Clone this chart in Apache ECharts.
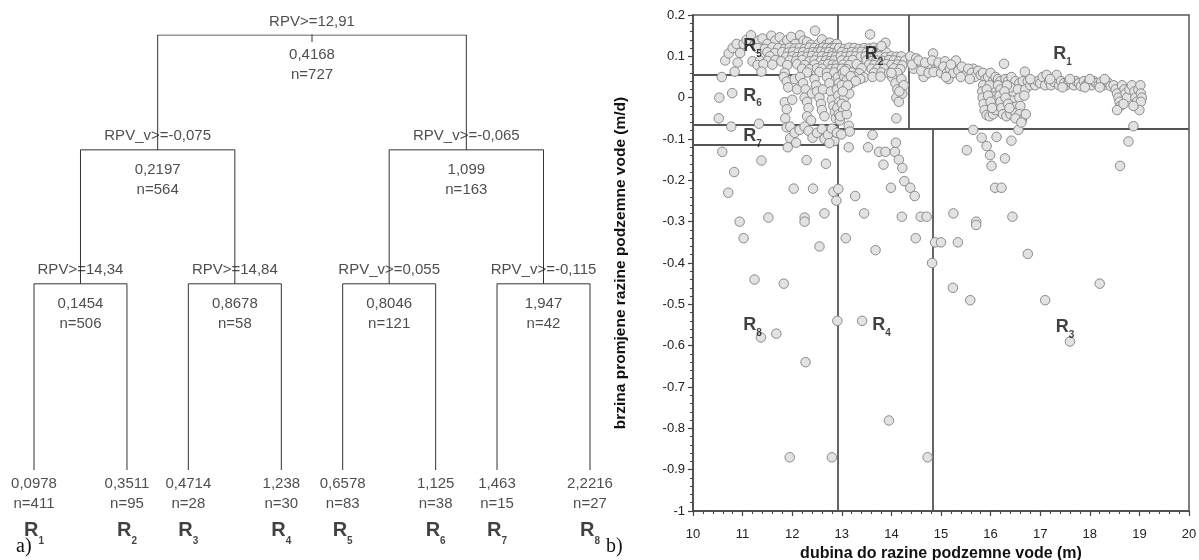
<!DOCTYPE html>
<html><head><meta charset="utf-8">
<script src="https://cdn.jsdelivr.net/npm/echarts@6/dist/echarts.min.js"></script>
<style>html,body{margin:0;padding:0;background:#fff}#c{width:1199px;height:560px}</style>
</head><body><div id="c"></div>
<script>
// ---------------- regression tree (panel a) ----------------
const rootRule = ['RPV', 12.91];
const rootMean = 0.4168, rootCount = 727;
const level1Rules = [['RPV_v', -0.075], ['RPV_v', -0.065]];
const level1Means = [0.2197, 1.099];
const level1Counts = [564, 163];
const level2Rules = [['RPV', 14.34], ['RPV', 14.84], ['RPV_v', 0.055], ['RPV_v', -0.115]];
const level2Means = [0.1454, 0.8678, 0.8046, 1.947];
const level2Counts = [506, 58, 121, 42];
const leafIds = ['1', '2', '3', '4', '5', '6', '7', '8'];
const leafMeans = [0.0978, 0.3511, 0.4714, 1.238, 0.6578, 1.125, 1.463, 2.2216];
const leafCounts = [411, 95, 28, 30, 83, 38, 15, 27];
const nodeHeights = [1, 0.736, 0.428, 0]; // relative height of root, level 1, level 2, leaves

// ---------------- scatter (panel b) ----------------
const xTicks = [10, 20, 1];
const yTicks = [-1, 0.2, 0.1];
const pointsR5 = [[10.65,0.09],[10.72,0.107],[10.8,0.12],[10.88,0.13],[10.95,0.108],[11.02,0.13],[11.08,0.14],[11.17,0.151],[11.25,0.128],[11.32,0.138],[11.4,0.143],[11.5,0.13],[11.58,0.15],[11.66,0.138],[11.75,0.146],[11.83,0.13],[11.9,0.139],[11.98,0.147],[12.06,0.13],[12.16,0.151],[12.23,0.138],[12.3,0.135],[12.38,0.128],[12.46,0.162],[12.53,0.13],[12.6,0.141],[12.68,0.128],[12.76,0.133],[12.84,0.125],[12.9,0.13],
[11.3,0.12],[11.45,0.118],[11.6,0.122],[11.72,0.12],[11.85,0.118],[11.95,0.121],[12.05,0.119],[12.15,0.12],[12.25,0.118],[12.35,0.121],[12.45,0.12],[12.55,0.118],[12.62,0.121],[12.7,0.12],[12.78,0.119],[12.86,0.12],
[11.5,0.11],[11.65,0.108],[11.8,0.11],[11.92,0.109],[12.02,0.111],[12.12,0.109],[12.22,0.11],[12.32,0.108],[12.42,0.11],[12.5,0.109],[12.58,0.111],[12.66,0.109],[12.74,0.11],[12.82,0.108],[12.9,0.11],
[11.55,0.1],[11.88,0.099],[12.0,0.1],[12.1,0.098],[12.2,0.1],[12.3,0.099],[12.4,0.101],[12.5,0.099],[12.6,0.1],[12.7,0.098],[12.8,0.1],[12.88,0.099],
[11.2,0.088],[11.35,0.09],[11.5,0.089],[11.66,0.091],[11.78,0.088],[11.95,0.09],[12.08,0.089],[12.2,0.091],[12.35,0.088],[12.45,0.09],[12.58,0.089],[12.68,0.09],[12.76,0.088],[12.85,0.09],
[11.3,0.079],[11.42,0.081],[11.6,0.08],[11.9,0.079],[12.1,0.081],[12.25,0.079],[12.45,0.08],[12.62,0.079],[12.72,0.081],[12.82,0.08],[12.9,0.079],
[12.2,0.07],[12.35,0.069],[12.5,0.071],[12.6,0.07],[12.78,0.069],[12.88,0.07],
[11.38,0.063],[11.85,0.06],[12.3,0.061],[12.55,0.062],[12.7,0.06],[12.85,0.061],[10.9,0.085],[10.84,0.063],[10.58,0.05]];
const pointsR6 = [[10.53,0.0],[10.79,0.011],[10.52,-0.05],[10.77,-0.07],[11.33,-0.063],
[11.83,0.05],[11.89,0.039],[11.92,0.025],[11.85,-0.011],[11.89,-0.028],[11.86,-0.05],
[12.05,0.045],[12.1,0.02],[12.0,-0.005],
[12.16,0.05],[12.22,0.035],[12.27,0.02],[12.25,0.0],[12.3,-0.01],[12.33,-0.025],[12.3,-0.045],[12.38,-0.055],
[12.4,0.01],[12.45,0.045],[12.48,0.03],[12.5,0.015],[12.55,0.0],[12.58,-0.015],[12.6,-0.03],[12.65,-0.045],[12.62,0.02],
[12.7,0.05],[12.75,0.035],[12.78,0.015],[12.8,-0.005],[12.83,-0.02],[12.86,-0.035],[12.88,-0.05],
[12.92,0.05],[12.94,0.035],[12.9,0.02],[12.93,0.005],[12.95,-0.01],[12.91,-0.025],[12.94,-0.04],[12.96,-0.055]];
const pointsR7R8 = [[11.89,-0.072],[11.96,-0.07],[11.96,-0.098],[12.05,-0.085],[12.15,-0.078],[12.25,-0.07],[12.33,-0.08],[12.41,-0.097],[12.5,-0.085],[12.6,-0.076],[12.65,-0.1],[12.72,-0.09],[12.8,-0.075],[12.85,-0.105],[12.9,-0.085],[11.91,-0.12],[12.08,-0.109],[12.75,-0.11],
[10.59,-0.131],[10.83,-0.18],[11.38,-0.152],[12.29,-0.151],[12.68,-0.16],[10.71,-0.23],[10.94,-0.3],[11.02,-0.34],[11.24,-0.44],[11.37,-0.58],[11.68,-0.571],[11.83,-0.45],[11.52,-0.29],[12.03,-0.22],[12.42,-0.22],[12.25,-0.29],[12.25,-0.3],[12.65,-0.28],[12.55,-0.36],[12.27,-0.64],[12.83,-0.228],[12.89,-0.249],[11.95,-0.87],[12.8,-0.87]];
const pointsR2 = [[12.95,0.12],[13.05,0.118],[13.15,0.121],[13.25,0.12],[13.35,0.118],[13.45,0.12],[13.55,0.119],[13.65,0.121],[13.75,0.118],
[13.0,0.11],[13.1,0.108],[13.2,0.11],[13.3,0.109],[13.4,0.111],[13.5,0.109],[13.6,0.11],[13.7,0.108],[13.8,0.11],[13.9,0.109],
[12.98,0.1],[13.08,0.099],[13.18,0.101],[13.28,0.1],[13.38,0.099],[13.48,0.1],[13.75,0.1],[13.88,0.098],[14.0,0.1],[14.1,0.099],[14.2,0.1],
[13.0,0.09],[13.12,0.089],[13.22,0.091],[13.5,0.09],[13.6,0.088],[13.7,0.09],[13.82,0.089],[13.95,0.091],[14.05,0.09],[14.15,0.088],[14.28,0.09],
[13.57,0.153],[13.88,0.133],[13.8,0.125],
[13.03,0.08],[13.15,0.079],[13.3,0.081],[13.55,0.08],[13.65,0.079],[13.78,0.08],[13.9,0.081],[14.0,0.079],[14.12,0.08],[14.22,0.078],
[13.0,0.07],[13.1,0.069],[13.4,0.071],[13.6,0.07],[13.72,0.069],[13.85,0.07],[14.05,0.071],[14.18,0.069],
[13.02,0.06],[13.2,0.061],[13.35,0.059],[13.65,0.06],[13.8,0.061],[13.95,0.059],[14.12,0.06],
[13.05,0.05],[13.25,0.051],[13.45,0.049],[13.62,0.05],[13.78,0.051],[14.02,0.049],[13.37,0.045],[13.1,0.042],
[13.0,0.03],[13.1,0.02],[13.05,0.0],[13.0,-0.015],[13.03,-0.03],[12.97,-0.045],[13.1,-0.04],[13.2,0.035],[13.15,0.01],[14.08,0.035],[14.12,0.02],[14.1,0.0],[14.15,-0.01],[14.22,0.01],[14.1,-0.05],[13.14,-0.068],
[13.06,0.065],[13.18,0.052],[13.28,0.04],[13.12,0.03],[13.02,0.015],[13.08,-0.02],[14.0,0.06],[14.2,0.045],[14.25,0.03],[14.16,0.015]];
const pointsR4 = [[13.16,-0.082],[12.99,-0.089],[13.14,-0.12],[13.53,-0.12],[13.62,-0.09],[13.75,-0.131],[13.88,-0.131],[14.07,-0.131],[14.09,-0.109],[14.15,-0.15],[13.84,-0.162],[14.22,-0.17],[14.26,-0.202],[12.93,-0.221],[13.08,-0.34],[13.27,-0.238],[13.45,-0.28],[13.68,-0.369],[13.41,-0.54],[12.91,-0.54],[13.99,-0.218],[14.21,-0.288],[14.38,-0.218],[14.47,-0.238],[14.59,-0.288],[14.71,-0.288],[14.49,-0.34],[14.82,-0.4],[13.95,-0.781],[14.73,-0.87]];
const pointsR3 = [[14.88,-0.35],[15.0,-0.35],[15.25,-0.28],[15.34,-0.35],[15.24,-0.46],[15.59,-0.49],[15.71,-0.3],[15.71,-0.308],[16.09,-0.218],[16.22,-0.218],[16.44,-0.288],[16.75,-0.378],[17.1,-0.49],[17.6,-0.59],[18.2,-0.45],[15.65,-0.078],[15.82,-0.097],[15.92,-0.117],[15.99,-0.139],[16.02,-0.165],[15.52,-0.127],[16.12,-0.095],[16.29,-0.147],[16.42,-0.104],[18.88,-0.069],[18.78,-0.106],[18.61,-0.165],[16.56,-0.078]];
const pointsR1 = [[14.4,0.09],[14.48,0.085],[14.55,0.075],[14.62,0.08],[14.7,0.072],[14.78,0.08],[14.84,0.107],[14.9,0.07],[14.97,0.075],[14.45,0.07],[14.65,0.05],[14.6,0.065],[14.75,0.06],[14.85,0.062],[15.0,0.06],[14.38,0.1],[14.5,0.095],
[14.42,0.08],[14.55,0.09],[14.68,0.085],[14.82,0.09],[14.95,0.085],[15.08,0.088],[15.22,0.068],[15.45,0.062],[15.65,0.07],[15.15,0.045],
[15.05,0.075],[15.12,0.06],[15.18,0.07],[15.25,0.06],[15.3,0.09],[15.35,0.065],[15.42,0.075],[15.5,0.055],[15.55,0.07],[15.62,0.06],[15.68,0.05],[15.75,0.065],[15.2,0.08],[15.4,0.05],[15.58,0.045],[15.8,0.055],[15.1,0.05],
[15.85,0.06],[15.9,0.045],[15.95,0.05],[16.0,0.06],[16.05,0.04],[16.1,0.05],[16.15,0.045],[16.2,0.04],[16.27,0.082],[16.3,0.045],[16.35,0.04],[16.42,0.05],[16.5,0.04],[16.58,0.035],[16.65,0.04],[16.69,0.063],
[15.85,0.03],[15.83,0.015],[15.84,0.0],[15.86,-0.015],[15.88,-0.03],[15.92,-0.042],[15.98,-0.045],[16.05,-0.04],[16.1,-0.03],[16.13,-0.015],[16.12,0.0],[16.1,0.015],[16.05,0.025],[15.98,0.03],[15.92,0.02],[15.95,0.005],[16.0,-0.01],[16.03,-0.025],
[16.15,0.03],[16.2,0.02],[16.18,0.005],[16.2,-0.01],[16.22,-0.025],[16.25,-0.04],[16.32,-0.045],[16.4,-0.04],[16.45,-0.03],[16.48,-0.015],[16.47,0.0],[16.45,0.015],[16.4,0.025],[16.33,0.03],[16.28,0.015],[16.3,0.0],[16.35,-0.015],[16.38,-0.025],
[16.55,0.02],[16.58,0.0],[16.6,-0.02],[16.58,-0.04],[16.63,-0.054],[16.5,-0.05],[16.7,0.02],[16.68,0.005],[16.62,-0.06],[16.71,-0.04],
[16.75,0.04],[16.8,0.03],[16.85,0.038],[16.9,0.03],[16.95,0.04],[17.0,0.035],[17.05,0.05],[17.1,0.03],[17.13,0.055],[17.18,0.04],[17.22,0.03],[17.28,0.038],[17.33,0.055],[17.38,0.03],[17.42,0.04],[17.48,0.035],[17.53,0.03],[17.58,0.04],[17.63,0.035],[17.68,0.03],[17.72,0.04],[17.78,0.035],[17.82,0.028],[17.88,0.04],[17.92,0.03],[17.98,0.038],[18.03,0.03],[18.08,0.04],[18.13,0.035],[18.18,0.03],[18.23,0.038],[18.28,0.03],[18.33,0.04],[18.38,0.035],[18.42,0.028],[16.8,0.045],[17.2,0.045],[17.6,0.045],[18.0,0.045],[18.3,0.045],[17.45,0.025],[17.9,0.025],[18.2,0.025],
[18.48,0.03],[18.52,0.02],[18.55,0.01],[18.58,0.0],[18.6,-0.01],[18.62,-0.02],[18.55,-0.03],[18.65,0.03],[18.7,0.02],[18.72,0.01],[18.75,0.0],[18.8,0.02],[18.85,0.03],[18.9,0.015],[18.92,0.0],[18.95,-0.01],[18.98,0.02],[19.02,0.03],[19.03,0.01],[19.05,0.0],[19.03,-0.01],[19.0,-0.03],[18.68,-0.015],[18.88,-0.02]];

// ---------------- derived structures ----------------
const fmt = v => String(v).replace('.', ',');
const ruleText = r => r[0] + '>=' + fmt(r[1]);
const PAIR_STEP = 1.66;
const leafX = leafMeans.map((_, i) => Math.floor(i / 2) * PAIR_STEP + (i % 2));
const l2X = level2Means.map((_, k) => (leafX[2 * k] + leafX[2 * k + 1]) / 2);
const l1X = level1Means.map((_, j) => (l2X[2 * j] + l2X[2 * j + 1]) / 2);
const rootX = (l1X[0] + l1X[1]) / 2;
const [h0, h1, h2, h3] = nodeHeights;

const treeEdges = [];
l2X.forEach((x, k) => treeEdges.push({coords: [[leafX[2*k], h3], [leafX[2*k], h2], [leafX[2*k+1], h2], [leafX[2*k+1], h3]]}));
l1X.forEach((x, j) => treeEdges.push({coords: [[l2X[2*j], h2], [l2X[2*j], h1], [l2X[2*j+1], h1], [l2X[2*j+1], h2]]}));
treeEdges.push({coords: [[l1X[0], h1], [l1X[0], h0], [l1X[1], h0], [l1X[1], h1]]});
treeEdges.push({coords: [[rootX, h0 - 0.016], [rootX, h0 + 0.016]]});

const innerNodes = [
  {value: [rootX, h0], rule: ruleText(rootRule), stat: fmt(rootMean) + '\nn=' + rootCount},
  ...l1X.map((x, j) => ({value: [x, h1], rule: ruleText(level1Rules[j]), stat: fmt(level1Means[j]) + '\nn=' + level1Counts[j]})),
  ...l2X.map((x, k) => ({value: [x, h2], rule: ruleText(level2Rules[k]), stat: fmt(level2Means[k]) + '\nn=' + level2Counts[k]}))
];
const leafNodes = leafX.map((x, i) => ({value: [x, h3], mean: fmt(leafMeans[i]), n: leafCounts[i], id: leafIds[i]}));

const t0 = rootRule[1], tv1 = level1Rules[0][1], tv2 = level1Rules[1][1];
const t14a = level2Rules[0][1], t14b = level2Rules[1][1], tv3 = level2Rules[2][1], tv4 = level2Rules[3][1];
const [xMin, xMax] = xTicks, [yMin, yMax] = yTicks;
const boundaries = [
  [[t0, yMax], [t0, yMin]],
  [[t0, tv1], [xMax, tv1]],
  [[t14a, yMax], [t14a, tv1]],
  [[t14b, tv1], [t14b, yMin]],
  [[xMin, tv3], [t0, tv3]],
  [[xMin, tv2], [t0, tv2]],
  [[xMin, tv4], [t0, tv4]]
].map(c => ({coords: c}));

const allPoints = [].concat(pointsR5, pointsR6, pointsR7R8, pointsR2, pointsR4, pointsR3, pointsR1);

const FONT = 'Liberation Sans, Arial, sans-serif';
const TC = '#222';
const subRich = (big, small, lh) => ({
  r: {fontSize: big, fontWeight: 'bold', lineHeight: lh, color: '#111', fontFamily: FONT, verticalAlign: 'middle'},
  s: {fontSize: small, fontWeight: 'bold', lineHeight: small + 2, color: '#111', fontFamily: FONT, verticalAlign: 'bottom'}
});
const chart = echarts.init(document.getElementById('c'), null, {renderer: 'canvas'});
chart.setOption({
  animation: false,
  backgroundColor: '#fff',
  textStyle: {fontFamily: FONT},
  grid: [
    {left: 34, top: 35, width: 556, height: 435, show: false, containLabel: false, outerBoundsMode: 'none'},
    {left: 693, top: 15, width: 496, height: 496, show: true, borderColor: '#555', borderWidth: 1.5, containLabel: false, outerBoundsMode: 'none'}
  ],
  xAxis: [
    {gridIndex: 0, type: 'value', min: 0, max: 3 * PAIR_STEP + 1, show: false},
    {gridIndex: 1, type: 'value', min: xMin, max: xMax, interval: xTicks[2],
     axisLine: {show: true, onZero: false, lineStyle: {color: '#444', width: 1.5}},
     axisTick: {show: true, length: 5, lineStyle: {color: '#444', width: 1.2}},
     minorTick: {show: true, splitNumber: 5, length: 3, lineStyle: {color: '#444'}},
     splitLine: {show: false},
     axisLabel: {color: TC, fontSize: 13, margin: 17, fontFamily: FONT},
     name: 'dubina do razine podzemne vode (m)', nameLocation: 'middle', nameGap: 34,
     nameTextStyle: {fontWeight: 'bold', fontSize: 16, color: '#111', fontFamily: FONT}}
  ],
  yAxis: [
    {gridIndex: 0, type: 'value', min: 0, max: 1, show: false},
    {gridIndex: 1, type: 'value', min: yMin, max: yMax, interval: yTicks[2],
     axisLine: {show: true, onZero: false, lineStyle: {color: '#444', width: 1.5}},
     axisTick: {show: true, length: 5, lineStyle: {color: '#444', width: 1.2}},
     minorTick: {show: true, splitNumber: 5, length: 3, lineStyle: {color: '#444'}},
     splitLine: {show: false},
     axisLabel: {color: TC, fontSize: 13, margin: 8, fontFamily: FONT, formatter: v => String(+v.toFixed(1))},
     name: 'brzina promjene razine podzemne vode (m/d)', nameLocation: 'middle', nameGap: 64,
     nameTextStyle: {fontWeight: 'bold', fontSize: 15.5, color: '#111', fontFamily: FONT}}
  ],
  series: [
    {type: 'lines', coordinateSystem: 'cartesian2d', xAxisIndex: 0, yAxisIndex: 0, polyline: true, silent: true,
     lineStyle: {color: '#333', width: 1, opacity: 1}, data: treeEdges, z: 2},
    {type: 'scatter', xAxisIndex: 0, yAxisIndex: 0, symbolSize: 0, silent: true, data: innerNodes, z: 3,
     label: {show: true, position: 'top', distance: 6, color: TC, fontSize: 15, fontFamily: FONT, formatter: p => p.data.rule}},
    {type: 'scatter', xAxisIndex: 0, yAxisIndex: 0, symbolSize: 0, silent: true, data: innerNodes, z: 3,
     label: {show: true, position: 'bottom', distance: 10, color: TC, fontSize: 15, lineHeight: 20, fontFamily: FONT, formatter: p => p.data.stat}},
    {type: 'scatter', xAxisIndex: 0, yAxisIndex: 0, symbolSize: 0, silent: true, data: leafNodes, z: 3,
     label: {show: true, position: 'bottom', distance: 4, color: TC, fontFamily: FONT,
       formatter: p => '{v|' + p.data.mean + '}\n{v|n=' + p.data.n + '}\n{r|R}{s|' + p.data.id + '}',
       rich: Object.assign({v: {fontSize: 15, lineHeight: 20, color: TC, fontFamily: FONT}}, subRich(20, 10, 32))}},
    {type: 'lines', coordinateSystem: 'cartesian2d', xAxisIndex: 1, yAxisIndex: 1, polyline: false, silent: true,
     lineStyle: {color: '#555', width: 1.8, opacity: 1}, data: boundaries, z: 2},
    {type: 'scatter', xAxisIndex: 1, yAxisIndex: 1, data: allPoints, symbol: 'circle', symbolSize: 9.5, z: 3,
     itemStyle: {color: '#e2e2e2', borderColor: '#8a8a8a', borderWidth: 1, opacity: 1}},
    {type: 'scatter', xAxisIndex: 1, yAxisIndex: 1, symbolSize: 0, silent: true, z: 5,
     data: [
       {value: [17.45, 0.105], id: '1'}, {value: [13.65, 0.105], id: '2'}, {value: [17.5, -0.555], id: '3'}, {value: [13.8, -0.55], id: '4'},
       {value: [11.2, 0.125], id: '5'}, {value: [11.2, 0.005], id: '6'}, {value: [11.2, -0.093], id: '7'}, {value: [11.2, -0.55], id: '8'}
     ],
     label: {show: true, position: 'inside', formatter: p => '{r|R}{s|' + p.data.id + '}', rich: subRich(18, 10, 26)}}
  ],
  graphic: [
    {type: 'text', left: 16, top: 537, style: {text: 'a)', font: '20px "Liberation Serif", "DejaVu Serif", serif', fill: '#111'}},
    {type: 'text', left: 606, top: 537, style: {text: 'b)', font: '20px "Liberation Serif", "DejaVu Serif", serif', fill: '#111'}}
  ]
});
</script></body></html>
